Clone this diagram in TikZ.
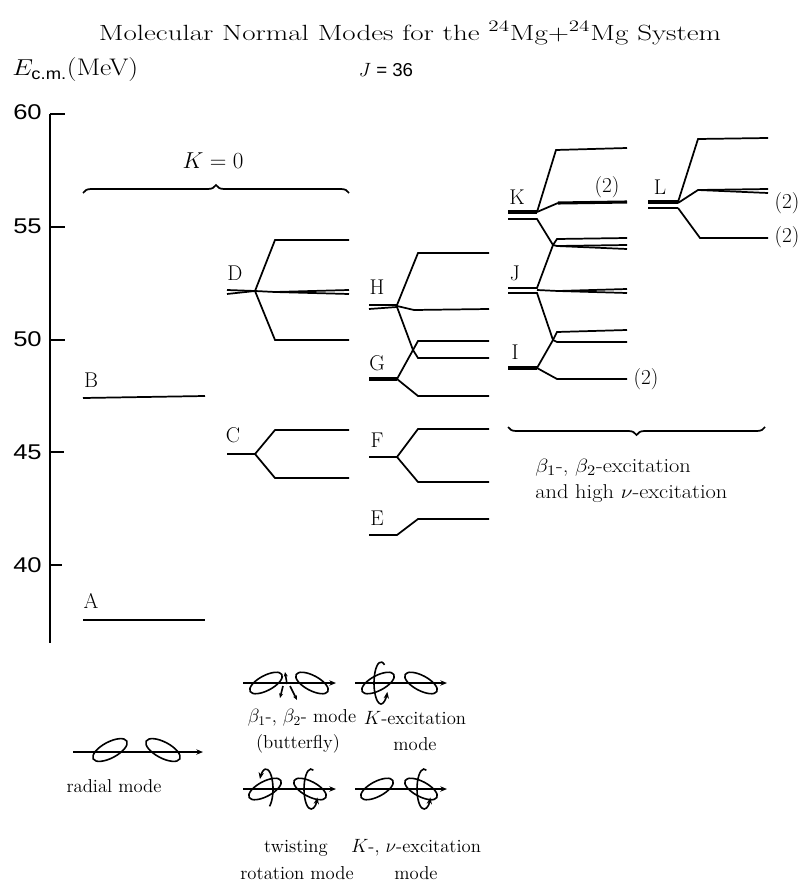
\documentclass[tikz,border=0pt]{standalone}
\usepackage{fontspec}
\usepackage{graphicx}
\newfontfamily\axisfont{Liberation Sans}
\usetikzlibrary{decorations.pathreplacing,arrows.meta}
\newcommand{\widetext}[2]{\scalebox{#1}[1]{#2}}
\begin{document}
\begin{tikzpicture}[x=0.75pt,y=-0.75pt,
  lev/.style={line width=1.3pt},
  thk/.style={line width=2.3pt},
  tick/.style={line width=1.4pt},
  lbl/.style={font=\fontsize{16}{19}\selectfont,inner sep=0pt},
  grptxt/.style={font=\fontsize{15}{18}\selectfont,inner sep=0pt,anchor=west},
  axlbl/.style={font=\axisfont\fontsize{16}{19}\selectfont,inner sep=0pt,anchor=east},
  captxt/.style={font=\fontsize{14}{17}\selectfont,inner sep=0pt},
  lobe/.style={line width=1.2pt},
  spin/.style={line width=1.2pt,-{Stealth[length=5pt,width=4pt]}},
  brc/.style={line width=1.3pt,decorate,decoration={brace,amplitude=6pt}}]
\useasboundingbox (0,0) rectangle (802,891);

% title and axis captions
\node[lbl,font=\fontsize{16.5}{19}\selectfont] (title) at (410,33) {\widetext{1.32}{Molecular Normal Modes for the ${}^{24}$Mg+${}^{24}$Mg System}};
\node[lbl,anchor=west,font=\fontsize{18}{21}\selectfont] (eaxis) at (12,70) {\widetext{1.15}{$E_{\mbox{\axisfont\fontsize{12}{13}\selectfont c.m.}}$(MeV)}};
\node[lbl,font=\axisfont\fontsize{14}{16}\selectfont] (jval) at (386,70) {$J$ = 36};

% energy axis
\draw[tick] (50,114) -- (50,643);
\draw[tick] (50,114) -- (65,114);
\draw[tick] (50,227) -- (65,227);
\draw[tick] (50,340) -- (65,340);
\draw[tick] (50,452) -- (64,452);
\draw[tick] (50,565) -- (62,565);
\node[axlbl] (t60) at (42,112) {\widetext{1.2}{60}};
\node[axlbl] (t55) at (42,226) {\widetext{1.2}{55}};
\node[axlbl] (t50) at (42,339) {\widetext{1.2}{50}};
\node[axlbl] (t45) at (42,452) {\widetext{1.2}{45}};
\node[axlbl] (t40) at (42,565) {\widetext{1.2}{40}};

% K = 0 group
\draw[brc] (83,193) -- (349,193);
\node[lbl] (kzero) at (213,161) {$K = 0$};

% radial levels A, B
\draw[lev] (83,620) -- (205,620);
\node[lbl] (lA) at (91,601) {A};
\draw[lev] (83,398) -- (205,396);
\node[lbl] (lB) at (91,380) {B};

% butterfly levels C, D
\node[lbl] (lC) at (233,435) {C};
\draw[lev] (227,454) -- (255,454) -- (275,430) -- (349,430);
\draw[lev] (255,454) -- (275,478) -- (349,478);
\node[lbl] (lD) at (235,273) {D};
\draw[lev] (227,290) -- (255,291) -- (275,240) -- (349,240);
\draw[lev] (227,294) -- (255,291) -- (275,340) -- (349,340);
\draw[lev] (255,291) -- (275,292) -- (349,290);
\draw[lev] (275,292) -- (349,294);

% K-excitation levels E, F, G, H
\node[lbl] (lE) at (377,518) {E};
\draw[lev] (369,535) -- (397,535) -- (418,519) -- (489,519);
\node[lbl] (lF) at (377,440) {F};
\draw[lev] (369,457) -- (397,457) -- (418,429) -- (489,429);
\draw[lev] (397,457) -- (418,482) -- (489,482);
\node[lbl] (lG) at (377,363) {G};
\draw[thk] (369,379) -- (397,379);
\draw[lev] (397,379) -- (413,350);
\draw[lev] (397,379) -- (418,396) -- (489,396);
\draw[lev] (413,350) -- (418,341) -- (489,341);
\draw[lev] (413,350) -- (418,358) -- (489,358);
\node[lbl] (lH) at (377,287) {H};
\draw[lev] (369,305) -- (397,305) -- (418,253) -- (489,253);
\draw[lev] (369,309) -- (397,307) -- (413,350);
\draw[lev] (397,306) -- (414,310) -- (489,309);

% beta and high nu excitation levels I, J, K, L
\node[lbl] (lI) at (515,352) {I};
\draw[thk] (508,368) -- (537,368);
\draw[lev] (537,368) -- (553,340);
\draw[lev] (537,368) -- (557,379) -- (627,379);
\node[lbl] (d2a) at (646,379) {(2)};
\draw[lev] (553,340) -- (557,332) -- (627,330);
\draw[lev] (553,340) -- (557,342) -- (627,342);
\node[lbl] (lJ) at (515,273) {J};
\draw[lev] (508,288) -- (537,288) -- (553,245);
\draw[lev] (508,293) -- (537,293) -- (553,340);
\draw[lev] (537,290) -- (558,291) -- (627,289);
\draw[lev] (558,291) -- (627,293);
\draw[lev] (553,245) -- (557,239) -- (627,238);
\draw[lev] (553,245) -- (557,246) -- (627,245);
\draw[lev] (557,246) -- (627,249);
\node[lbl] (lK) at (517,197) {K};
\draw[thk] (508,212) -- (537,212);
\draw[lev] (537,212) -- (556,150) -- (627,148);
\draw[lev] (537,212) -- (558,203);
\draw[thk] (558,203) -- (627,202);
\node[lbl] (d2b) at (607,187) {(2)};
\draw[lev] (508,219) -- (537,219) -- (553,245);
\node[lbl] (lL) at (660,187) {L};
\draw[thk] (648,202) -- (678,202);
\draw[lev] (648,208) -- (678,208);
\draw[lev] (678,202) -- (698,139) -- (768,138);
\draw[lev] (678,203) -- (698,190) -- (768,189);
\draw[lev] (698,190) -- (768,193);
\draw[lev] (678,208) -- (700,238) -- (768,238);
\node[lbl] (d2c) at (787,203) {(2)};
\node[lbl] (d2d) at (787,237) {(2)};

% high excitation group
\draw[brc] (765,427) -- (508,427);
\node[grptxt] (grp1) at (535,468) {\widetext{1.12}{$\beta_1$-, $\beta_2$-excitation}};
\node[grptxt] (grp2) at (535,494) {\widetext{1.12}{and high $\nu$-excitation}};

% radial mode sketch
\draw[spin] (73,752) -- (203,752);
\draw[lobe,rotate around={28:(110,750)}] (110,750) ellipse [x radius=19, y radius=8];
\draw[lobe,rotate around={-28:(163,750)}] (163,750) ellipse [x radius=19, y radius=8];
\node[captxt] (cradial) at (114,786) {radial mode};

% butterfly mode sketch
\draw[spin] (243,683) -- (336,683);
\draw[lobe,rotate around={28:(266,683)}] (266,683) ellipse [x radius=18, y radius=7.5];
\draw[lobe,rotate around={-28:(312,683)}] (312,683) ellipse [x radius=18, y radius=7.5];
\draw[spin,-{Stealth[length=3.5pt,width=3pt]}] (287,684) -- (285,672);
\draw[spin,-{Stealth[length=3.5pt,width=3pt]}] (283,686) -- (280,698);
\draw[spin,-{Stealth[length=3.5pt,width=3pt]}] (290,686) -- (297,700);
\node[captxt] (cbeta) at (302,718) {$\beta_1$-, $\beta_2$- mode};
\node[captxt] (cbutter) at (298,744) {(butterfly)};

% K-excitation mode sketch
\draw[spin] (355,683) -- (447,683);
\draw[lobe,rotate around={28:(378,683)}] (378,683) ellipse [x radius=18, y radius=7.5];
\draw[lobe,rotate around={-28:(421,683)}] (421,683) ellipse [x radius=18, y radius=7.5];
\begin{scope}[shift={(381,683)},y=0.75pt]
  \draw[spin] (60:7 and 21) arc [start angle=60, end angle=335, x radius=7, y radius=21];
\end{scope}
\node[captxt] (ckexc) at (415,718) {$K$-excitation};
\node[captxt] (ckmode) at (415,744) {mode};

% twisting rotation mode sketch
\draw[spin] (243,789) -- (336,789);
\draw[lobe,rotate around={28:(265,789)}] (265,789) ellipse [x radius=18, y radius=7.5];
\draw[lobe,rotate around={-28:(310,789)}] (310,789) ellipse [x radius=18, y radius=7.5];
\begin{scope}[shift={(266,789)},y=0.75pt]
  \draw[spin] (-60:7 and 20) arc [start angle=-60, end angle=150, x radius=7, y radius=20];
\end{scope}
\begin{scope}[shift={(311,789)},y=0.75pt]
  \draw[spin] (70:7 and 20) arc [start angle=70, end angle=335, x radius=7, y radius=20];
\end{scope}
\node[captxt] (ctwist) at (296,848) {twisting};
\node[captxt] (crot) at (297,873) {rotation mode};

% K- and nu-excitation mode sketch
\draw[spin] (355,789) -- (447,789);
\draw[lobe,rotate around={28:(377,789)}] (377,789) ellipse [x radius=18, y radius=7.5];
\draw[lobe,rotate around={-28:(421,789)}] (421,789) ellipse [x radius=18, y radius=7.5];
\begin{scope}[shift={(424,789)},y=0.75pt]
  \draw[spin] (70:7 and 20) arc [start angle=70, end angle=335, x radius=7, y radius=20];
\end{scope}
\node[captxt] (cknu) at (416,848) {$K$-, $\nu$-excitation};
\node[captxt] (cknumode) at (416,873) {mode};
\end{tikzpicture}
\end{document}
